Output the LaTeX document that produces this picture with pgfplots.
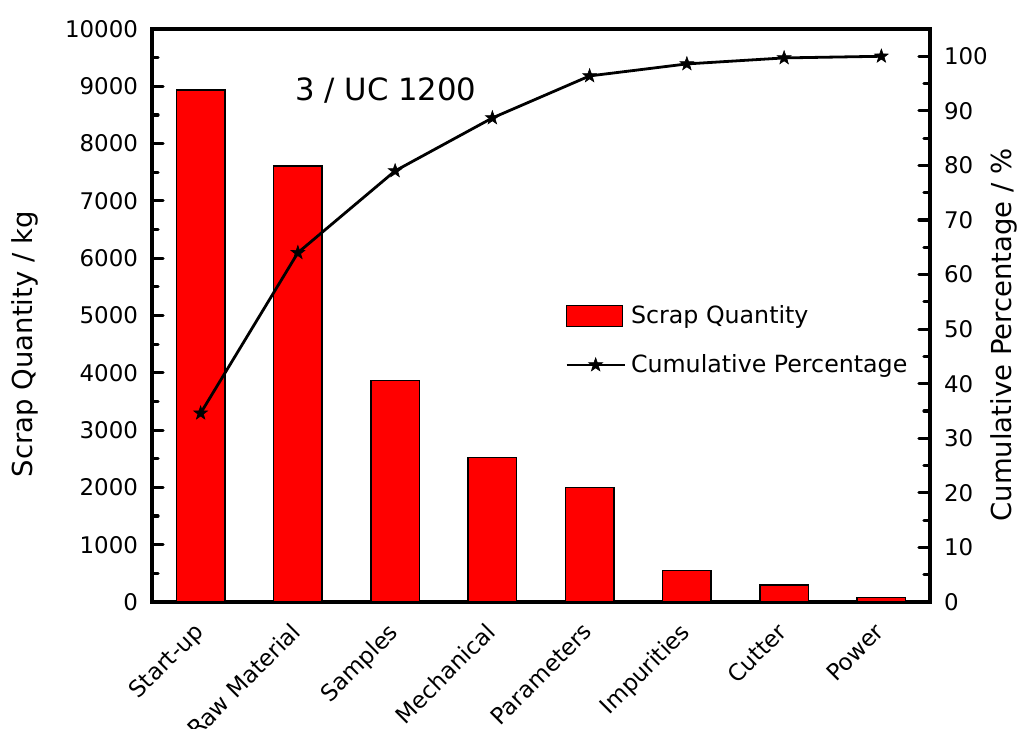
\documentclass[border=0pt]{standalone}
\usepackage{fontspec}
\setmainfont{DejaVu Sans}
\usepackage{pgfplots}
\pgfplotsset{compat=1.18}
\pgfdeclareplotmark{fstar}{%
  \pgfpathmoveto{\pgfpointpolar{90}{\pgfplotmarksize}}%
  \pgfpathlineto{\pgfpointpolar{126}{0.40\pgfplotmarksize}}%
  \pgfpathlineto{\pgfpointpolar{162}{\pgfplotmarksize}}%
  \pgfpathlineto{\pgfpointpolar{198}{0.40\pgfplotmarksize}}%
  \pgfpathlineto{\pgfpointpolar{234}{\pgfplotmarksize}}%
  \pgfpathlineto{\pgfpointpolar{270}{0.40\pgfplotmarksize}}%
  \pgfpathlineto{\pgfpointpolar{306}{\pgfplotmarksize}}%
  \pgfpathlineto{\pgfpointpolar{342}{0.40\pgfplotmarksize}}%
  \pgfpathlineto{\pgfpointpolar{18}{\pgfplotmarksize}}%
  \pgfpathlineto{\pgfpointpolar{54}{0.40\pgfplotmarksize}}%
  \pgfpathclose
  \pgfusepathqfillstroke}
\pgfplotsset{
  common/.style={
    scale only axis, width=389bp, height=286.5bp,
    xmin=0.5, xmax=8.5,
    at={(0,0)}, anchor=south west,
    tick align=inside,
    major tick length=5.5bp, minor tick length=3bp,
    ytick style={line width=1.6bp, line cap=round, black},
    axis line style={line width=2bp},
    /pgf/number format/assume math mode=true,
    ticklabel style={font=\fontsize{11.5}{13}\selectfont},
    label style={font=\fontsize{13.8}{16}\selectfont},
  },
  linelegend/.style={legend image code/.code={\draw[mark repeat=2, mark phase=2, ##1] plot coordinates {(0bp,0bp) (14.5bp,0bp) (29bp,0bp)};}},
  barlegend/.style={legend image code/.code={\draw[fill=red, draw=black, line width=0.75bp] (0bp,-5.25bp) rectangle (28bp,5.25bp);}},
}
\begin{document}
\begin{tikzpicture}
\useasboundingbox (-76bp,-63.5bp) rectangle (433bp,301bp);
\begin{axis}[common,
  ymin=0, ymax=10000,
  ytick={0,1000,...,10000}, minor y tick num=1,
  ytick pos=left, xtick pos=bottom,
  scaled y ticks=false,
  yticklabel style={/pgf/number format/fixed, /pgf/number format/1000 sep={}, xshift=-3.5bp},
  xtick={1,...,8},
  xticklabels={Start-up, Raw Material, Samples, Mechanical, Parameters, Impurities, Cutter, Power},
  xticklabel style={xshift=-4bp, yshift=0.7bp, rotate=45, anchor=north east},
  xtick style={draw=none},
  ylabel={Scrap Quantity / kg},
  ylabel style={at={(axis description cs:-0.153,0.450)}, anchor=base},
  ybar, bar width=0.5,
]
\addplot[fill=red, draw=black, line width=0.75bp] coordinates {
  (1,8935) (2,7609) (3,3862) (4,2518) (5,1995) (6,546) (7,297) (8,75)
};
\node[anchor=base, font=\fontsize{15.4}{18}\selectfont] at (axis description cs:0.3008,0.876) {3 / UC 1200};
\end{axis}
\begin{axis}[common,
  ymin=0, ymax=105,
  axis y line*=right, axis x line=none,
  ytick={0,10,...,100}, minor y tick num=1,
  yticklabel style={xshift=3.5bp},
  ylabel={Cumulative Percentage / \%},
  ylabel style={at={(axis description cs:1.1054,0.466)}, anchor=base, rotate=0},
  legend style={draw=none, fill=none, at={(axis description cs:0.523,0.526)}, anchor=north west,
    font=\fontsize{11.9}{14}\selectfont, cells={anchor=west}, row sep=13.5bp,
    nodes={inner sep=0pt},
    /tikz/every odd column/.append style={column sep=2.5bp}},
]
\addlegendimage{barlegend}
\addlegendentry{Scrap Quantity}
\addplot[black, line width=1.4bp, mark=fstar, mark size=3.6bp, mark options={fill=black, line width=0.3bp}, linelegend]
  coordinates {
  (1,34.6) (2,64.0) (3,79.0) (4,88.7) (5,96.4) (6,98.6) (7,99.7) (8,100)
};
\addlegendentry{Cumulative Percentage}
\end{axis}
\end{tikzpicture}
\end{document}
